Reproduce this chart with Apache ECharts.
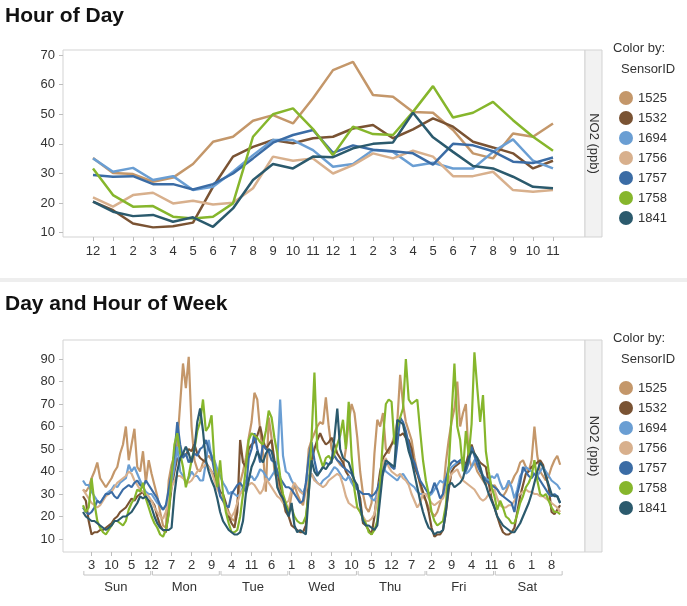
<!DOCTYPE html>
<html><head><meta charset="utf-8">
<script src="https://cdn.jsdelivr.net/npm/echarts@6/dist/echarts.min.js"></script>
<style>html,body{margin:0;padding:0;background:#fff}#c{width:687px;height:606px}</style>
</head><body><div id="c"></div>
<script>
// ---------- data ----------
const sensors = ['1525','1532','1694','1756','1757','1758','1841'];
const hourLabels = ['12','1','2','3','4','5','6','7','8','9','10','11','12','1','2','3','4','5','6','7','8','9','10','11'];
const yTicksTop = [10,20,30,40,50,60,70];
const yTicksBottom = [10,20,30,40,50,60,70,80,90];

const hod1525 = [35.2,30.2,29.8,27.2,28.6,33.2,40.7,42.4,47.8,49.7,46.9,55.4,64.9,67.7,56.5,55.9,50.8,50.5,44.7,36.8,35.1,43.5,42.4,46.9];
const hod1532 = [20.5,17.6,13.1,11.8,12.2,13.4,25.5,35.7,39.0,41.3,40.2,41.9,42.4,45.2,46.4,41.9,44.9,48.6,45.8,40.7,38.8,36.8,31.7,34.3];
const hod1694 = [35.1,30.6,31.9,27.8,29.1,24.4,25.5,30.6,36.2,41.3,41.3,37.9,32.3,33.2,37.9,37.3,32.5,33.6,31.7,31.7,37.3,41.5,34.3,31.7];
const hod1756 = [21.9,18.8,22.7,23.5,19.9,20.8,19.5,20.1,25.0,35.7,34.3,35.1,30.0,32.8,36.8,35.1,37.7,35.7,29.1,29.1,30.6,24.4,23.8,24.4];
const hod1757 = [29.5,28.9,29.1,26.4,26.4,24.6,26.4,30.0,35.1,40.4,43.0,44.7,37.0,39.5,38.0,37.5,36.8,33.0,40.0,39.5,37.5,34.0,33.5,35.4];
const hod1758 = [31.7,22.7,18.8,19.0,15.4,14.8,15.4,19.9,42.4,50.0,52.0,45.0,36.2,45.8,43.3,43.0,50.8,59.5,48.9,50.5,54.2,48.0,42.4,37.7];
const hod1841 = [20.5,17.1,15.6,16.0,13.7,15.2,12.0,18.2,27.8,33.2,31.7,35.7,35.5,38.5,40.0,40.5,50.5,42.2,37.3,32.5,31.7,28.9,25.5,25.0];

const days = ['Sun','Mon','Tue','Wed','Thu','Fri','Sat'];
const weekTickIdx = [3,10,17,24,31,38,45,52,59,66,73,80,87,94,101,108,115,122,129,136,143,150,157,164];
const weekTickLabels = ['3','10','5','12','7','2','9','4','11','6','1','8','3','10','5','12','7','2','9','4','11','6','1','8'];

const dhw1525 = [
 32,31,33,37,40,44,37,35,33,35,37,40,42,48,52,60,45,52,59,42,40,49,35,45,
 39,34,29,22,16,15,36,43,47,52,70,88,77,91,60,45,41,40,44,46,47,45,44,40,
 30,27,25,22,19,18,26,35,40,46,55,62,75,72,58,48,31,64,55,40,36,30,27,22,
 22,30,34,30,27,25,32,50,54,57,60,62,61,73,60,50,47,45,43,42,50,62,70,66,
 55,40,30,24,22,26,48,63,60,66,50,48,52,56,62,83,70,62,58,54,46,40,34,29,
 27,24,22,20,22,26,30,44,54,62,68,80,60,66,70,46,42,44,40,38,36,34,37,33,
 34,32,30,29,31,34,35,38,40,44,45,42,40,45,60,47,40,38,36,38,42,45,47,43];
const dhw1532 = [
 29,27,18,12,13,13,14,14,15,16,17,19,20,22,23,24,26,28,27,29,30,31,28,27,
 27,25,20,16,14,13,22,33,40,46,45,48,47,50,49,52,48,46,45,44,42,40,38,34,
 31,30,26,20,17,15,22,54,44,42,50,52,53,56,60,54,50,52,54,45,40,34,29,22,
 20,16,15,14,13,13,16,35,45,50,54,57,54,52,53,55,52,48,46,44,40,38,36,33,
 33,28,17,16,14,12,20,31,40,46,48,50,52,54,57,56,57,55,54,50,42,39,35,31,
 27,22,15,11,12,12,14,22,32,40,42,43,44,45,43,48,52,48,46,44,43,42,35,28,
 24,20,16,13,12,12,13,15,22,29,34,39,40,42,43,44,45,43,38,33,22,21,23,25];
const dhw1694 = [
 36,34,34,31,29,27,26,28,30,31,32,34,33,35,36,37,43,40,42,39,36,33,31,30,
 30,28,26,25,23,25,27,35,42,51,40,38,35,37,40,38,38,36,36,44,54,46,45,41,
 38,35,33,30,31,30,29,30,33,36,37,38,36,38,41,40,38,36,38,40,44,72,47,40,
 39,36,34,33,32,30,34,38,39,37,35,34,36,37,38,40,42,41,39,37,36,38,35,33,
 32,31,30,30,30,28,27,30,36,42,40,39,38,37,36,38,39,37,35,34,33,31,30,30,
 30,29,30,32,34,36,35,37,40,42,43,44,45,43,39,40,42,45,46,42,38,37,36,38,
 37,39,35,32,33,36,33,28,32,38,40,42,41,40,39,38,40,42,40,38,36,35,34,32];
const dhw1756 = [
 32,30,28,26,25,24,25,27,29,30,31,33,35,36,37,38,40,39,36,34,32,31,30,29,
 27,24,22,20,19,22,28,33,36,38,38,37,36,35,36,38,40,41,42,43,42,40,36,32,
 30,27,24,21,20,22,26,30,32,33,34,35,34,32,30,32,37,35,33,31,29,28,26,26,
 27,32,35,33,31,30,32,36,39,36,35,34,33,34,36,37,38,39,38,34,29,26,25,24,
 24,22,20,18,18,19,21,28,36,44,46,42,40,39,38,39,37,36,34,30,27,24,26,30,
 30,28,26,25,26,27,28,32,36,39,40,41,38,36,35,34,33,32,30,28,27,28,30,31,
 32,28,25,24,24,25,25,27,29,30,31,32,31,31,30,30,29,29,28,27,26,25,24,22];
const dhw1757 = [
 24,22,21,22,24,27,26,28,30,30,31,29,28,30,32,33,34,33,35,36,34,33,36,34,
 32,30,28,25,23,25,32,39,48,62,52,46,48,44,46,48,47,50,51,54,50,47,40,36,
 29,27,25,24,30,32,34,35,33,31,46,50,57,50,44,52,50,49,45,44,40,37,35,33,
 33,32,30,28,26,27,35,46,53,45,39,40,42,44,43,45,47,45,44,42,41,40,39,36,
 32,31,30,30,30,29,30,32,36,39,43,44,42,41,52,64,62,58,52,46,44,40,36,34,
 32,30,31,35,32,28,30,36,42,44,45,44,45,46,40,44,51,47,43,40,38,36,35,34,
 33,32,30,29,28,27,26,22,30,35,42,40,38,37,39,38,36,34,32,30,29,30,29,26];
const dhw1758 = [
 25,22,24,37,26,18,15,13,12,14,16,18,18,17,16,18,23,26,28,32,31,35,28,24,
 20,17,15,12,11,14,21,38,52,57,48,42,33,38,45,50,58,62,72,58,60,65,44,33,
 45,30,22,17,13,13,14,20,30,42,54,57,56,55,53,52,58,67,64,55,48,38,30,26,
 22,24,20,18,17,17,20,30,55,84,50,46,42,46,47,45,48,52,56,63,50,71,47,32,
 24,22,19,17,13,12,14,18,35,55,70,72,71,52,60,64,68,90,72,70,71,72,58,45,
 36,30,22,18,16,17,18,25,42,65,88,60,54,40,58,47,61,93,77,62,74,49,40,33,
 29,23,27,24,20,19,17,17,21,26,29,33,35,38,45,36,30,29,30,27,24,22,22,21];
const dhw1841 = [
 22,20,19,18,18,17,16,15,14,15,16,18,18,19,20,20,21,22,24,26,29,28,29,27,
 24,20,17,15,14,14,14,15,30,40,46,48,51,48,44,50,62,68,58,45,40,36,33,28,
 22,18,16,14,13,12,12,13,18,30,36,42,45,49,46,44,48,50,49,44,33,30,28,24,
 20,26,16,13,14,13,12,30,45,40,38,40,42,41,43,44,55,68,50,46,45,44,40,36,
 34,25,18,16,16,15,14,16,28,40,45,44,43,42,63,62,61,55,49,45,39,33,27,22,
 18,15,14,12,13,13,14,22,34,35,33,34,35,37,42,46,49,48,46,42,37,34,30,27,
 24,20,18,16,15,14,13,13,15,17,20,23,26,30,35,40,44,42,38,34,30,29,29,26];

// ---------- styling ----------
const colors = ['#C4976A','#7A5333','#6A9ED3','#D8B08D','#3B6CA5','#86B62C','#2B5A6D'];
const FONT = 'Liberation Sans, Arial, sans-serif';
const topSeriesData = [hod1525,hod1532,hod1694,hod1756,hod1757,hod1758,hod1841];
const weekSeriesData = [dhw1525,dhw1532,dhw1694,dhw1756,dhw1757,dhw1758,dhw1841];

const hourIdx = hourLabels.map((_, i) => i);
const dayCenters = days.map((_, d) => 24 * d + 11.5);

const chart = echarts.init(document.getElementById('c'), null, {renderer: 'canvas'});

const labelStyle = {fontSize: 13, color: '#333', fontFamily: FONT};
const tickStyle = {lineStyle: {color: '#bdbdbd', width: 1}, length: 4};
const noLine = {show: false, onZero: false};

const series = [];
sensors.forEach((s, k) => {
  series.push({
    name: s, type: 'line', xAxisIndex: 0, yAxisIndex: 0,
    data: topSeriesData[k].map((v, i) => [i, v]),
    showSymbol: false, symbol: 'none', color: colors[k],
    lineStyle: {width: 2.5, color: colors[k]},
    emphasis: {disabled: true}, z: 2
  });
});
sensors.forEach((s, k) => {
  series.push({
    name: s, type: 'line', xAxisIndex: 1, yAxisIndex: 1,
    data: weekSeriesData[k].map((v, i) => [i, v]),
    showSymbol: false, symbol: 'none', color: colors[k],
    lineStyle: {width: 2.2, color: colors[k]},
    emphasis: {disabled: true}, z: 2
  });
});

const legendBase = {
  orient: 'vertical', left: 619, padding: 0, icon: 'circle', itemWidth: 14, itemHeight: 14,
  itemGap: 6, textStyle: {fontSize: 13, color: '#333', fontFamily: FONT, lineHeight: 14},
  data: sensors, selectedMode: false
};

chart.setOption({
  animation: false,
  backgroundColor: '#ffffff',
  title: [
    {text: 'Hour of Day', left: 5, top: 6, padding: 0, textStyle: {fontSize: 21, fontWeight: 'bold', color: '#111', fontFamily: FONT}},
    {text: 'Day and Hour of Week', left: 5, top: 294, padding: 0, textStyle: {fontSize: 21, fontWeight: 'bold', color: '#111', fontFamily: FONT}}
  ],
  legend: [
    Object.assign({}, legendBase, {top: 91}),
    Object.assign({}, legendBase, {top: 381})
  ],
  grid: [
    {left: 63, top: 50, width: 522, height: 187, show: true, borderColor: '#d3d3d3', borderWidth: 1, backgroundColor: '#fff'},
    {left: 63, top: 340, width: 522, height: 212, show: true, borderColor: '#d3d3d3', borderWidth: 1, backgroundColor: '#fff'}
  ],
  xAxis: [
    {gridIndex: 0, type: 'value', min: -1.5, max: 24.6, position: 'bottom',
     axisLine: noLine, splitLine: {show: false},
     axisTick: Object.assign({show: true, customValues: hourIdx}, tickStyle),
     axisLabel: Object.assign({customValues: hourIdx, margin: 8, formatter: v => hourLabels[Math.round(v)]}, labelStyle)},
    {gridIndex: 1, type: 'value', min: -7, max: 175.7, position: 'bottom',
     axisLine: noLine, splitLine: {show: false},
     axisTick: Object.assign({show: true, customValues: weekTickIdx}, tickStyle),
     axisLabel: Object.assign({customValues: weekTickIdx, margin: 7, formatter: v => weekTickLabels[weekTickIdx.indexOf(Math.round(v))]}, labelStyle)},
    {gridIndex: 1, type: 'value', min: -7, max: 175.7, position: 'bottom', offset: 0,
     axisLine: noLine, splitLine: {show: false}, axisTick: {show: false},
     axisLabel: Object.assign({customValues: dayCenters, margin: 29, formatter: v => days[Math.round((v - 11.5) / 24)]}, labelStyle)}
  ],
  yAxis: [
    {gridIndex: 0, type: 'value', min: 8.55, max: 71.7, position: 'left',
     axisLine: noLine, splitLine: {show: false},
     axisTick: Object.assign({show: true, customValues: yTicksTop}, tickStyle),
     axisLabel: Object.assign({customValues: yTicksTop, margin: 8}, labelStyle)},
    {gridIndex: 1, type: 'value', min: 4.22, max: 98.44, position: 'left',
     axisLine: noLine, splitLine: {show: false},
     axisTick: Object.assign({show: true, customValues: yTicksBottom}, tickStyle),
     axisLabel: Object.assign({customValues: yTicksBottom, margin: 8}, labelStyle)}
  ],
  series: series
});

// ---------- decorations (strips, legend headers, day brackets) ----------
const g = [];
g.push({type: 'rect', shape: {x: 0, y: 278, width: 687, height: 4}, style: {fill: '#eeeeee'}, silent: true});
[[50, 187], [340, 212]].forEach(([top, h]) => {
  g.push({type: 'rect', shape: {x: 585, y: top, width: 17, height: h}, style: {fill: '#f2f2f2', stroke: '#d3d3d3', lineWidth: 1}, silent: true});
  g.push({type: 'text', x: 593.5, y: top + h / 2, rotation: -Math.PI / 2,
          style: {text: 'NO2 (ppb)', align: 'center', verticalAlign: 'middle', font: '13px ' + FONT, fill: '#333'}, silent: true});
});
[0, 290].forEach(off => {
  g.push({type: 'text', x: 613, y: 48 + off, style: {text: 'Color by:', align: 'left', verticalAlign: 'middle', font: '13px ' + FONT, fill: '#333'}, silent: true});
  g.push({type: 'text', x: 621, y: 69 + off, style: {text: 'SensorID', align: 'left', verticalAlign: 'middle', font: '13px ' + FONT, fill: '#333'}, silent: true});
});
days.forEach((d, i) => {
  const x1 = chart.convertToPixel({xAxisIndex: 1}, 24 * i + 0.3);
  const x2 = chart.convertToPixel({xAxisIndex: 1}, 24 * i + 23.7);
  g.push({type: 'polyline', shape: {points: [[x1, 571], [x1, 575], [x2, 575], [x2, 571]]},
          style: {stroke: '#c4c4c4', lineWidth: 1, fill: null}, silent: true});
});
chart.setOption({graphic: g});
</script>
</body></html>
